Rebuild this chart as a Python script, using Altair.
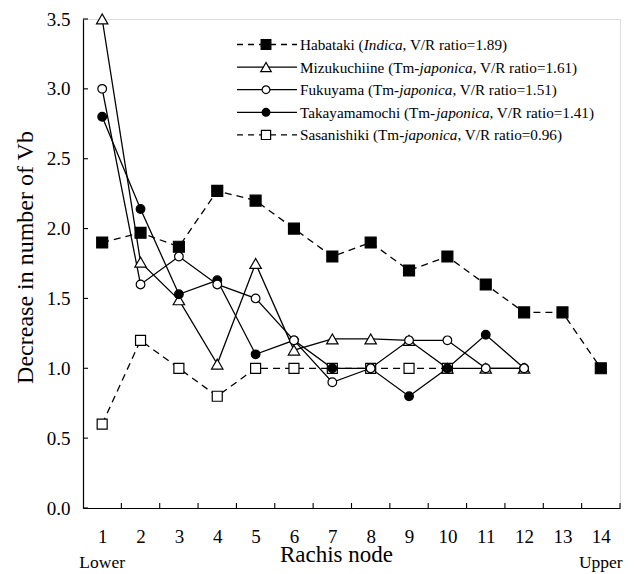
import altair as alt
import pandas as pd

# ---------------- data ----------------
nodes = list(range(1, 15))
habataki = [1.90, 1.97, 1.87, 2.27, 2.20, 2.00, 1.80, 1.90, 1.70, 1.80, 1.60, 1.40, 1.40, 1.00]
mizukuchiine = [3.50, 1.76, 1.49, 1.03, 1.75, 1.13, 1.21, 1.21, 1.20, 1.00, 1.00, 1.00]
fukuyama = [3.00, 1.60, 1.80, 1.60, 1.50, 1.20, 0.90, 1.00, 1.20, 1.20, 1.00, 1.00]
takayamamochi = [2.80, 2.14, 1.53, 1.63, 1.10, 1.20, 1.00, 1.00, 0.80, 1.00, 1.24, 1.00]
sasanishiki = [0.60, 1.20, 1.00, 0.80, 1.00, 1.00, 1.00, 1.00, 1.00, 1.00]

y_tick_values = [0.0, 0.5, 1.0, 1.5, 2.0, 2.5, 3.0, 3.5]
x_tick_values = [1.5, 2.5, 3.5, 4.5, 5.5, 6.5, 7.5, 8.5, 9.5, 10.5, 11.5, 12.5, 13.5, 14.5]
end_labels = ["Lower", "Upper"]
end_nodes = [1, 14]

legend_prefix = ["Habataki (", "Mizukuchiine (Tm-", "Fukuyama (Tm-", "Takayamamochi (Tm-", "Sasanishiki (Tm-"]
legend_italic = ["Indica", "japonica", "japonica", "japonica", "japonica"]
legend_suffix = [", V/R ratio=1.89)", ", V/R ratio=1.61)", ", V/R ratio=1.51)", ", V/R ratio=1.41)", ", V/R ratio=0.96)"]

# ---------------- style ----------------
FONT = "Liberation Serif"
W, H = 537, 489
DASH = [7, 5]

styles = {
    "Habataki": dict(values=habataki, shape="square", fill="black", dash=DASH, size=120, lsize=95),
    "Mizukuchiine": dict(values=mizukuchiine, shape="triangle-up", fill="white", dash=None, size=130, lsize=110),
    "Fukuyama": dict(values=fukuyama, shape="circle", fill="white", dash=None, size=75, lsize=60),
    "Takayamamochi": dict(values=takayamamochi, shape="circle", fill="black", dash=None, size=75, lsize=60),
    "Sasanishiki": dict(values=sasanishiki, shape="square", fill="white", dash=DASH, size=100, lsize=85),
}
legend_order = ["Habataki", "Mizukuchiine", "Fukuyama", "Takayamamochi", "Sasanishiki"]
draw_order = ["Sasanishiki", "Habataki", "Mizukuchiine", "Takayamamochi", "Fukuyama"]

xscale = alt.Scale(domain=[0.5, 14.5], nice=False, zero=False)
yscale = alt.Scale(domain=[0, 3.5], nice=False, zero=False)

xaxis = alt.Axis(
    values=nodes, ticks=False, tickSize=0, grid=False, domainColor="black", domainWidth=1.2,
    labelFont=FONT, labelFontSize=19, labelColor="black", labelBaseline="alphabetic", labelPadding=34,
    title="Rachis node", titleFont=FONT, titleFontSize=23, titleFontWeight="normal", titleColor="black",
    titleX=253, titleY=53, titleBaseline="alphabetic", titleAlign="center", labelFlush=False,
)
yaxis = alt.Axis(
    values=y_tick_values, format=".1f", ticks=False, tickSize=0, grid=False, domainColor="black",
    domainWidth=1.2, labelFont=FONT, labelFontSize=19, labelColor="black", labelPadding=13,
    title="Decrease in number of Vb", titleFont=FONT, titleFontSize=24, titleFontWeight="normal",
    titleColor="black", titleX=-51, titleY=238, titleBaseline="alphabetic", titleAlign="center",
    titleAngle=270, labelFlush=False,
)


def X(field):
    return alt.X(field, type="quantitative", scale=xscale, axis=xaxis)


def Y(field):
    return alt.Y(field, type="quantitative", scale=yscale, axis=yaxis)


layers = []

# series lines
for name in draw_order:
    st = styles[name]
    df = pd.DataFrame({"node": nodes[: len(st["values"])], "val": st["values"]})
    kw = dict(color="black", strokeWidth=1.3)
    if st["dash"]:
        kw["strokeDash"] = st["dash"]
    layers.append(alt.Chart(df).mark_line(**kw).encode(x=X("node"), y=Y("val")))

# series markers
for name in draw_order:
    st = styles[name]
    df = pd.DataFrame({"node": nodes[: len(st["values"])], "val": st["values"]})
    layers.append(
        alt.Chart(df).mark_point(
            shape=st["shape"], filled=True, fill=st["fill"], stroke="black", strokeWidth=1.2,
            size=st["size"], opacity=1,
        ).encode(x=X("node"), y=Y("val"))
    )

# inward ticks
layers.append(
    alt.Chart(pd.DataFrame({"yt": y_tick_values})).mark_rule(color="black", strokeWidth=1.1).encode(
        y=Y("yt"), x=alt.value(0), x2=alt.value(5)
    )
)
layers.append(
    alt.Chart(pd.DataFrame({"xt": x_tick_values})).mark_rule(color="black", strokeWidth=1.1).encode(
        x=X("xt"), y=alt.value(H), y2=alt.value(H - 5)
    )
)

# Lower / Upper
layers.append(
    alt.Chart(pd.DataFrame({"node": end_nodes, "lab": end_labels})).mark_text(
        font=FONT, fontSize=17.5, color="black", baseline="alphabetic", align="center"
    ).encode(x=X("node"), y=alt.value(H + 60), text="lab:N")
)

# ---------------- legend (manual, to allow italic parts) ----------------
REG = {' ': 250, '(': 333, ')': 333, ',': 250, '.': 250, '/': 278, '=': 564, '-': 333,
       'A': 722, 'B': 667, 'C': 667, 'D': 722, 'E': 611, 'F': 556, 'G': 722, 'H': 722, 'I': 333,
       'J': 389, 'K': 722, 'L': 611, 'M': 889, 'N': 722, 'O': 722, 'P': 556, 'Q': 722, 'R': 667,
       'S': 556, 'T': 611, 'U': 722, 'V': 722, 'W': 944, 'X': 722, 'Y': 722, 'Z': 611,
       'a': 444, 'b': 500, 'c': 444, 'd': 500, 'e': 444, 'f': 333, 'g': 500, 'h': 500, 'i': 278,
       'j': 278, 'k': 500, 'l': 278, 'm': 778, 'n': 500, 'o': 500, 'p': 500, 'q': 500, 'r': 333,
       's': 389, 't': 278, 'u': 500, 'v': 500, 'w': 722, 'x': 500, 'y': 500, 'z': 444}
ITA = {'I': 333, 'n': 500, 'd': 500, 'i': 278, 'c': 444, 'a': 500, 'j': 278, 'p': 500, 'o': 500}


def text_width(s, table, fs):
    return sum(table.get(ch, 500) for ch in s) * fs / 1000.0


LFS = 15.2
leg_x0, leg_x1, leg_xm, leg_tx = 154, 214, 183, 217
leg_y0, leg_dy = 25.5, 22.6
dummy = pd.DataFrame({"a": [0]})

for i, name in enumerate(legend_order):
    st = styles[name]
    yy = leg_y0 + i * leg_dy
    kw = dict(color="black", strokeWidth=1.3)
    if st["dash"]:
        kw["strokeDash"] = [6, 5]
    layers.append(
        alt.Chart(dummy).mark_rule(**kw).encode(
            x=alt.value(leg_x0), x2=alt.value(leg_x1), y=alt.value(yy)
        )
    )
    layers.append(
        alt.Chart(dummy).mark_point(
            shape=st["shape"], filled=True, fill=st["fill"], stroke="black", strokeWidth=1.2,
            size=st["lsize"], opacity=1,
        ).encode(x=alt.value(leg_xm), y=alt.value(yy))
    )
    p, it, sfx = legend_prefix[i], legend_italic[i], legend_suffix[i]
    x_it = leg_tx + text_width(p, REG, LFS)
    x_sf = x_it + text_width(it, ITA, LFS)
    for txt, xx, style in [(p, leg_tx, "normal"), (it, x_it, "italic"), (sfx, x_sf, "normal")]:
        layers.append(
            alt.Chart(dummy).mark_text(
                text=txt, font=FONT, fontSize=LFS, fontStyle=style, color="black",
                align="left", baseline="middle",
            ).encode(x=alt.value(xx), y=alt.value(yy + 0.5))
        )

chart = alt.layer(*layers).properties(
    width=W, height=H,
    autosize=alt.AutoSizeParams(type="none"),
    padding={"left": 83, "top": 19, "right": 16, "bottom": 66},
    background="white",
).configure_view(stroke=None).configure(font=FONT)

chart.save("out.html", embed_options={"renderer": "svg", "actions": False})
